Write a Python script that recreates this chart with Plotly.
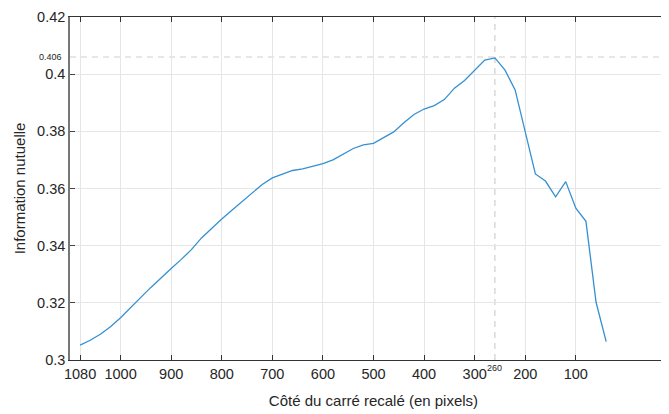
import plotly.graph_objects as go

# Data
cote = [1080, 1060, 1040, 1020, 1000, 980, 960, 940, 920, 900, 880, 860, 840, 820, 800,
        780, 760, 740, 720, 700, 680, 660, 640, 620, 600, 580, 560, 540, 520, 500,
        480, 460, 440, 420, 400, 380, 360, 340, 320, 300, 280, 260, 240, 220, 200,
        180, 160, 140, 120, 100, 80, 60, 40]
info = [0.3052, 0.3069, 0.3090, 0.3116, 0.3148, 0.3182, 0.3219, 0.3254, 0.3288, 0.3320,
        0.3352, 0.3386, 0.3427, 0.3461, 0.3493, 0.3524, 0.3553, 0.3582, 0.3614, 0.3637,
        0.3649, 0.3663, 0.3669, 0.3677, 0.3687, 0.3700, 0.3720, 0.3740, 0.3753, 0.3758,
        0.3778, 0.3798, 0.3830, 0.3859, 0.3878, 0.3890, 0.3911, 0.3951, 0.3978, 0.4014,
        0.4049, 0.4057, 0.4014, 0.3945, 0.3796, 0.3651, 0.3626, 0.3571, 0.3624, 0.3531,
        0.3485, 0.3202, 0.3064]
x_ticks = [1080, 1000, 900, 800, 700, 600, 500, 400, 300, 200, 100]
y_ticks = [0.30, 0.32, 0.34, 0.36, 0.38, 0.40, 0.42]
y_labels = ["0.3", "0.32", "0.34", "0.36", "0.38", "0.4", "0.42"]
best_x = 260
best_y = 0.406

FONT = "Liberation Sans, Arial, Helvetica, sans-serif"

fig = go.Figure()
fig.add_trace(go.Scatter(x=cote, y=info, mode="lines",
                         line=dict(color="#3590d2", width=1.3),
                         showlegend=False, hoverinfo="x+y"))

# dashed guide lines
fig.add_shape(type="line", xref="x", yref="paper", x0=best_x, x1=best_x, y0=0, y1=1,
              line=dict(color="#cfcfcf", width=1.2, dash="6px,5px"), layer="below")
fig.add_shape(type="line", xref="paper", yref="y", x0=0, x1=1, y0=best_y, y1=best_y,
              line=dict(color="#cfcfcf", width=1.2, dash="6px,5px"), layer="below")

fig.add_annotation(text=str(best_y), xref="paper", yref="y", x=0, y=best_y,
                   xanchor="right", yanchor="middle", xshift=-6, showarrow=False,
                   font=dict(family=FONT, size=9, color="#262626"))
fig.add_annotation(text=str(best_x), xref="x", yref="paper", x=best_x, y=0,
                   xanchor="center", yanchor="top", yshift=-1, showarrow=False,
                   font=dict(family=FONT, size=9, color="#262626"))

fig.update_layout(
    template="none",
    width=669, height=414,
    margin=dict(l=62, r=0, t=9, b=62, pad=0),
    paper_bgcolor="white", plot_bgcolor="white",
    font=dict(family=FONT, size=14, color="#262626"),
    xaxis=dict(
        automargin=False,
        range=[1100, -100], tickvals=x_ticks, ticktext=[str(v) for v in x_ticks],
        ticks="inside", ticklen=5, tickcolor="#333", tickwidth=1,
        showline=True, linecolor="#333", linewidth=1.2, mirror="ticks",
        showgrid=True, gridcolor="#e6e6e6", gridwidth=1, zeroline=False,
        tickfont=dict(size=14.5), ticklabeloverflow="allow",
        title=dict(text="Côté du carré recalé (en pixels)", font=dict(size=15), standoff=14),
    ),
    yaxis=dict(
        automargin=False,
        range=[0.3, 0.42], tickvals=y_ticks, ticktext=y_labels,
        ticks="inside", ticklen=5, tickcolor="#444", tickwidth=1,
        showline=True, linecolor="#777", linewidth=1.5, mirror=False,
        showgrid=True, gridcolor="#e6e6e6", gridwidth=1, zeroline=False,
        tickfont=dict(size=14.5), ticklabeloverflow="allow",
        title=dict(text="Information nutuelle", font=dict(size=15), standoff=8),
    ),
)

fig.write_html("out.html")
